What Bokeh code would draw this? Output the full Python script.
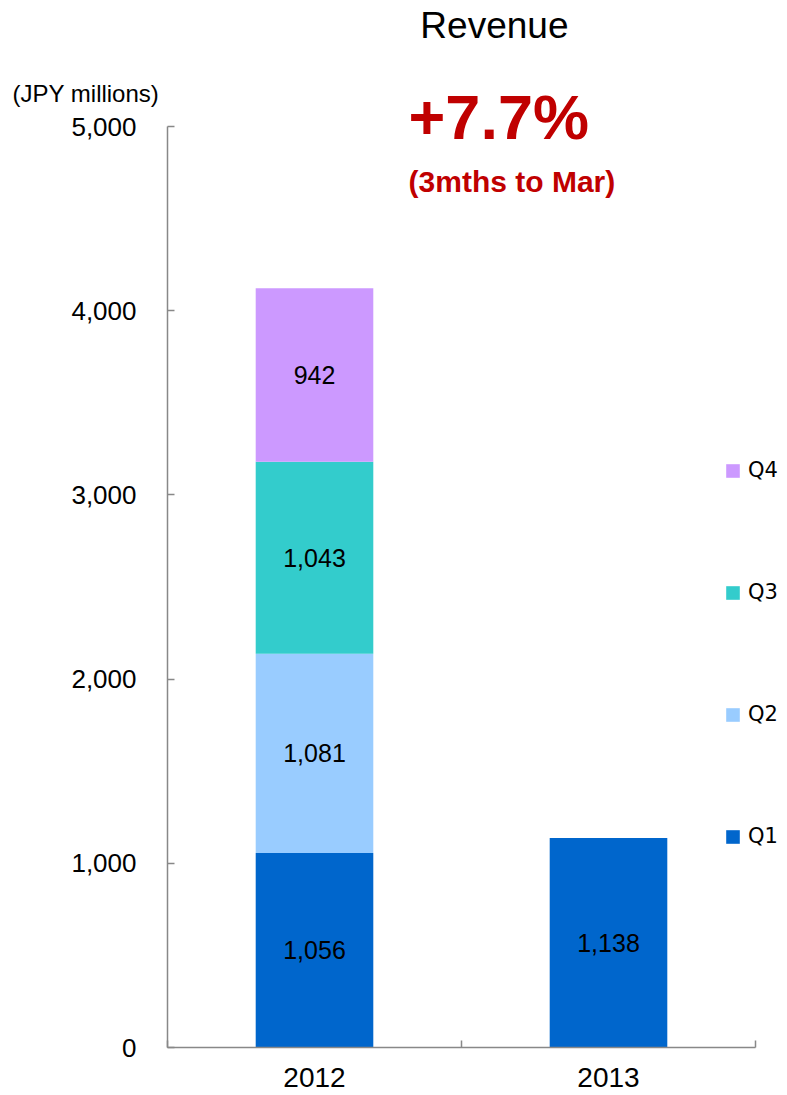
from bokeh.plotting import figure
from bokeh.models import (ColumnDataSource, Range1d, FixedTicker, NumeralTickFormatter,
                          Label, LabelSet, Legend, LegendItem)
from bokeh.core.properties import value
from bokeh.embed import file_html
from bokeh.resources import INLINE

years = ["2012", "2013"]
quarters = ["Q1", "Q2", "Q3", "Q4"]
q1 = [1056, 1138]
q2 = [1081, 0]
q3 = [1043, 0]
q4 = [942, 0]
colors = ["#0066CC", "#99CCFF", "#33CCCC", "#CC99FF"]
y_ticks = [0, 1000, 2000, 3000, 4000, 5000]
Y_TOP = 5000

FONT = "Liberation Sans"
W, H = 787, 1095          # canvas in px
AX_LEFT, AX_RIGHT = 167, 755   # x-axis extent in px
AX_TOP, AX_BOTTOM = 126, 1047  # y-axis extent in px

# data-per-pixel scales
sx = len(years) / (AX_RIGHT - AX_LEFT)
sy = Y_TOP / (AX_BOTTOM - AX_TOP)

xpos = [i + 0.5 for i in range(len(years))]
data = {"x": xpos, "Q1": q1, "Q2": q2, "Q3": q3, "Q4": q4}
src = ColumnDataSource(data)

p = figure(frame_width=W, frame_height=H, output_backend="svg", toolbar_location=None,
           title=None,
           x_range=Range1d(-AX_LEFT * sx, (W - AX_LEFT) * sx),
           y_range=Range1d(-(H - AX_BOTTOM) * sy, AX_BOTTOM * sy),
           min_border=0)
p.outline_line_color = None
p.xgrid.grid_line_color = None
p.ygrid.grid_line_color = None

renderers = p.vbar_stack(quarters, x="x", width=0.4, color=colors, line_color=None, source=src)

# segment labels
lx, ly, lt = [], [], []
series = [q1, q2, q3, q4]
for j in range(len(years)):
    base = 0
    for s in series:
        v = s[j]
        if v > 0:
            lx.append(xpos[j]); ly.append(base + v / 2); lt.append(f"{v:,}")
        base += v
lab_src = ColumnDataSource(dict(x=lx, y=ly, t=lt))
p.add_layout(LabelSet(x="x", y="y", text="t", source=lab_src, text_align="center",
                      text_baseline="middle", text_font=value(FONT), text_font_size="25px",
                      text_color="black"))

# axes, pinned at the data origin
ax = p.xaxis[0]
ax.fixed_location = 0
ax.bounds = (0, len(years))
ax.ticker = FixedTicker(ticks=xpos, minor_ticks=list(range(len(years) + 1)))
ax.major_label_overrides = {x: y for x, y in zip(xpos, years)}
ax.major_tick_in = 0
ax.major_tick_out = 0
ax.minor_tick_in = 7
ax.minor_tick_out = 0
ax.minor_tick_line_color = "#888888"
ax.minor_tick_line_width = 1.5
ax.axis_line_color = "#888888"
ax.axis_line_width = 1.5
ax.major_label_text_font = FONT
ax.major_label_text_font_size = "28px"
ax.major_label_text_color = "black"
ax.major_label_standoff = 20

ay = p.yaxis[0]
ay.fixed_location = 0
ay.bounds = (0, Y_TOP)
ay.ticker = FixedTicker(ticks=y_ticks, minor_ticks=[])
ay.formatter = NumeralTickFormatter(format="0,0")
ay.major_tick_in = 7
ay.major_tick_out = 0
ay.major_tick_line_color = "#888888"
ay.major_tick_line_width = 1.5
ay.minor_tick_line_color = None
ay.axis_line_color = "#888888"
ay.axis_line_width = 1.5
ay.major_label_text_font = FONT
ay.major_label_text_font_size = "26px"
ay.major_label_text_color = "black"
ay.major_label_standoff = 31

# texts
p.add_layout(Label(x=1.112, y=5548, text="Revenue", text_align="center", text_baseline="middle",
                   text_font=FONT, text_font_size="37px", text_color="black"))
p.add_layout(Label(x=-0.527, y=5179, text="(JPY millions)", text_align="left", text_baseline="middle",
                   text_font=FONT, text_font_size="24px", text_color="black"))
p.add_layout(Label(x=0.82, y=5053, text="+7.7%", text_align="left", text_baseline="alphabetic",
                   text_font=FONT, text_font_size="63px", text_font_style="bold", text_color="#C00000"))
p.add_layout(Label(x=0.82, y=4702, text="(3mths to Mar)", text_align="left", text_baseline="alphabetic",
                   text_font=FONT, text_font_size="30px", text_font_style="bold", text_color="#C00000"))

# legend (Q4 on top)
items = [LegendItem(label=q, renderers=[r]) for q, r in zip(quarters, renderers)][::-1]
legend = Legend(items=items, location=(724, 247), orientation="vertical",
                glyph_width=17, glyph_height=17, label_height=20, label_standoff=7,
                spacing=98, padding=0, margin=0, border_line_color=None,
                background_fill_alpha=0, label_text_font="DejaVu Sans",
                label_text_font_size="21px", label_text_color="black")
p.add_layout(legend, "center")

open("out.html", "w").write(file_html(p, INLINE))
